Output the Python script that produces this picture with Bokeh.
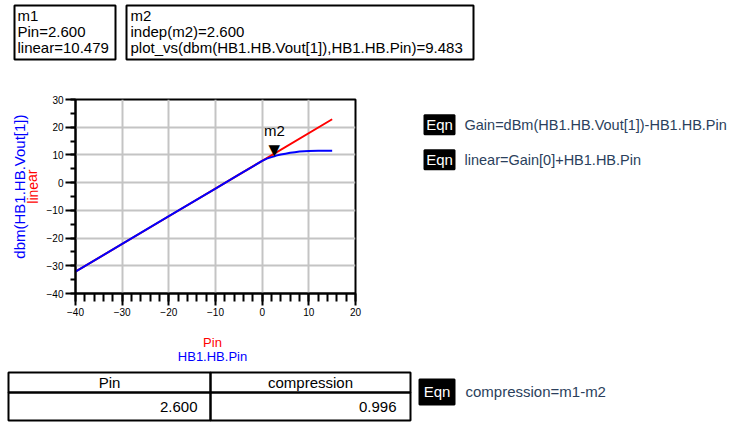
from bokeh.plotting import figure
from bokeh.models import Label, Range1d, SingleIntervalTicker
from bokeh.layouts import column, row
from bokeh.embed import file_html
from bokeh.resources import INLINE

# ---------------- data ----------------
pin = [-40, -30, -20, -10, -5, 0, 1, 2, 2.6, 3, 4, 5, 6, 7, 8, 9, 10, 12, 15]
vout_dbm = [-32.12, -22.12, -12.12, -2.13, 2.86, 7.82, 8.65, 9.2, 9.483, 9.75,
            10.15, 10.45, 10.75, 11.0, 11.2, 11.35, 11.45, 11.52, 11.55]
pin_linear = [-40, -20, 0, 15]
linear = [-32.121, -12.121, 7.879, 22.879]
m2_pin = [2.6]
m2_val = [9.483]

m1_lines = ["m1", "Pin=2.600", "linear=10.479"]
m2_lines = ["m2", "indep(m2)=2.600", "plot_vs(dbm(HB1.HB.Vout[1]),HB1.HB.Pin)=9.483"]
eqns = ["Gain=dBm(HB1.HB.Vout[1])-HB1.HB.Pin", "linear=Gain[0]+HB1.HB.Pin", "compression=m1-m2"]
table_header = ["Pin", "compression"]
table_values = ["2.600", "0.996"]

FONT = "Liberation Sans"
EQN_TXT = "#2b3f5c"


def canvas(x0, y0, w, h):
    """A blank panel whose data coordinates equal page pixels (y downwards)."""
    f = figure(width=w, height=h, output_backend="svg", toolbar_location=None,
               x_range=Range1d(x0, x0 + w), y_range=Range1d(y0 + h, y0),
               x_axis_type=None, y_axis_type=None,
               min_border=0, min_border_left=0, min_border_right=0,
               min_border_top=0, min_border_bottom=0)
    f.outline_line_color = None
    f.background_fill_color = "white"
    f.border_fill_color = "white"
    f.grid.visible = False
    return f


def txt(f, X, Y, s, color="black", size="15px", align="left", baseline="middle", angle=0.0):
    f.add_layout(Label(x=X, y=Y, text=s, text_color=color, text_font=FONT,
                       text_font_size=size, text_align=align, text_baseline=baseline,
                       angle=angle))


def boxes(f, lefts, tops, rights, bottoms, fill=None):
    f.quad(left=lefts, right=rights, top=tops, bottom=bottoms,
           fill_color=fill if fill else "white", fill_alpha=1.0 if fill else 0.0,
           line_color="black", line_width=2)


# ---------------- top strip: marker readouts ----------------
A = canvas(0, 0, 735, 85)
boxes(A, [14, 126], [5, 5], [115, 473], [59, 59])
for i, s in enumerate(m1_lines):
    txt(A, 17, 15 + 16 * i, s)
for i, s in enumerate(m2_lines):
    txt(A, 130, 15 + 16 * i, s)

# ---------------- left strip: y titles ----------------
E = canvas(0, 85, 43, 245)
txt(E, 19, 195, "dbm(HB1.HB.Vout[1])", color="#0000ff", align="center", angle=1.5708)
txt(E, 32, 195, "linear", color="#ff0000", size="14px", align="center", angle=1.5708)

# ---------------- chart ----------------
B = figure(width=337, height=245, output_backend="svg", toolbar_location=None,
           x_range=Range1d(-40, 20), y_range=Range1d(-40, 30),
           min_border_left=30, min_border_right=25, min_border_top=14, min_border_bottom=37)
B.background_fill_color = "white"
B.border_fill_color = "white"
B.outline_line_color = "black"
B.outline_line_width = 2
B.xaxis.ticker = SingleIntervalTicker(interval=10, num_minor_ticks=5)
B.yaxis.ticker = SingleIntervalTicker(interval=10, num_minor_ticks=2)
for ax in (B.xaxis, B.yaxis):
    ax.axis_line_color = "black"
    ax.axis_line_width = 2
    ax.major_tick_line_color = "black"
    ax.major_tick_line_width = 2
    ax.minor_tick_line_color = "black"
    ax.minor_tick_line_width = 2
    ax.major_tick_in = 0
    ax.minor_tick_in = 0
    ax.major_label_text_font = FONT
    ax.major_label_text_font_size = "10px"
    ax.major_label_text_color = "black"
    ax.major_label_standoff = 2
B.xaxis.major_tick_out = 12
B.xaxis.minor_tick_out = 8
B.yaxis.major_tick_out = 10
B.yaxis.minor_tick_out = 5
B.grid.grid_line_color = "#c4c4c4"
B.grid.grid_line_width = 2

B.line(pin_linear, linear, line_color="#ff0000", line_width=2)
B.line(pin, vout_dbm, line_color="#0000ff", line_width=2)
B.add_layout(Label(x=m2_pin[0], y=m2_val[0], text="\u25BC", text_font="DejaVu Sans",
                   text_font_size="15px", text_align="center", text_baseline="alphabetic",
                   text_color="black", y_offset=6))
B.add_layout(Label(x=m2_pin[0], y=m2_val[0], text="m2", text_font=FONT,
                   text_font_size="15px", text_align="center", text_baseline="middle",
                   text_color="black", y_offset=26))

# ---------------- right panel: equations ----------------
C = canvas(380, 85, 355, 245)
boxes(C, [424, 424], [105, 149], [454, 454], [129, 173], fill="black")
for yc, s in zip([117, 161], eqns[:2]):
    txt(C, 439, yc, "Eqn", color="white", align="center")
    txt(C, 464, yc, s, color=EQN_TXT, size="14.5px")

# ---------------- bottom strip: x titles, table, equation ----------------
D = canvas(0, 330, 735, 93)
txt(D, 212, 342, "Pin", color="#ff0000", size="13px", align="center")
txt(D, 212, 356, "HB1.HB.Pin", color="#0000ff", size="13px", align="center")
boxes(D, [8, 210, 8, 210], [372, 372, 392, 392], [210, 410, 210, 410], [392, 392, 420, 420])
txt(D, 109, 382, table_header[0], align="center")
txt(D, 310, 382, table_header[1], align="center")
txt(D, 197, 406, table_values[0], align="right")
txt(D, 396, 406, table_values[1], align="right")
boxes(D, [419], [379], [454], [404], fill="black")
txt(D, 436.5, 391, "Eqn", color="white", align="center")
txt(D, 465, 391, eqns[2], color=EQN_TXT)

layout = column(A, row(E, B, C, spacing=0), D, spacing=0)
open("out.html", "w").write(file_html(layout, INLINE))
